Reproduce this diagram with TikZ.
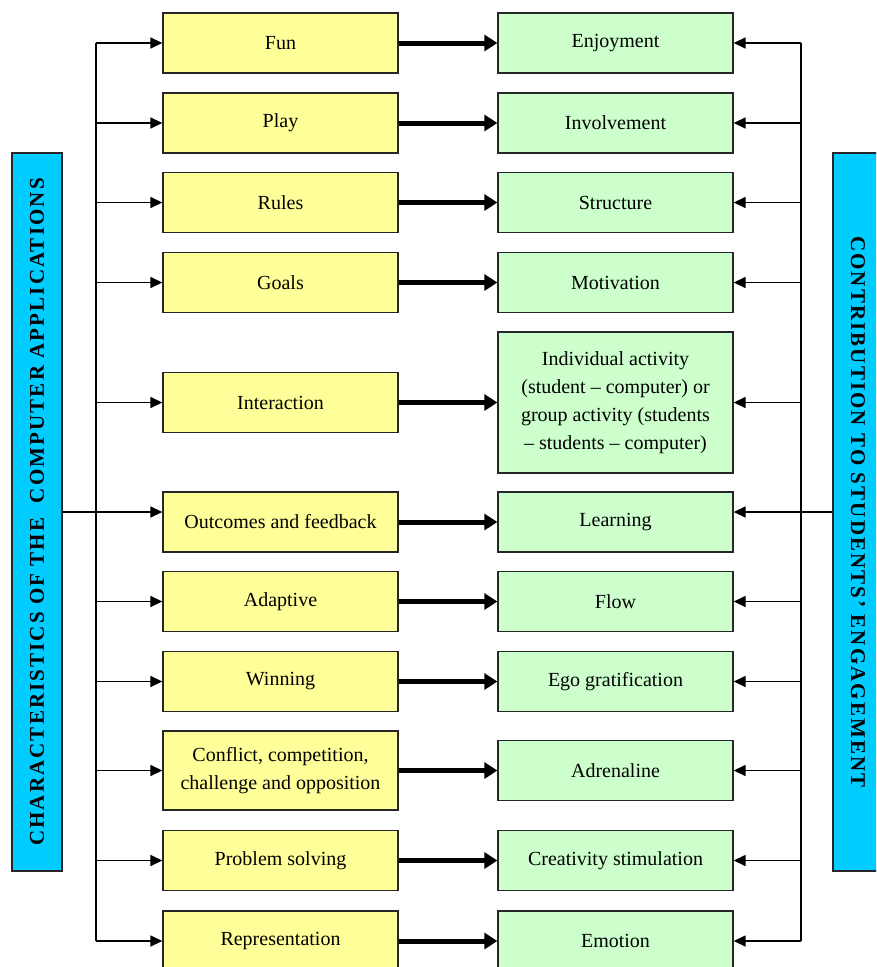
\documentclass[tikz,border=0pt]{standalone}
\usepackage{fontspec}
\setmainfont{Liberation Serif}
\usetikzlibrary{arrows.meta}

\definecolor{charyellow}{HTML}{FFFF99}
\definecolor{contgreen}{HTML}{CCFFCC}
\definecolor{barcyan}{HTML}{00CCFF}

\tikzset{
  charbox/.style={draw=black!85, line width=1.3pt, fill=charyellow,
    minimum width=235pt, minimum height=60pt, inner sep=2pt, align=center,
    font=\fontsize{20}{28}\selectfont},
  contbox/.style={charbox, fill=contgreen},
  sidebar/.style={draw=black!85, line width=1.3pt, fill=barcyan,
    minimum width=50pt, minimum height=718pt, inner sep=0pt},
  bartext/.style={font=\fontsize{21}{24}\selectfont\bfseries\addfontfeatures{LetterSpace=10}},
  thin arrow/.style={line width=1.4pt, -{Triangle[length=12pt,width=11pt]}},
  thick arrow/.style={line width=5pt, -{Triangle[length=13pt,width=16pt]}}
}

\begin{document}
\begin{tikzpicture}[x=1pt,y=-1pt]
        \pgfmathsetmacro\cx{280.5}
        \pgfmathsetmacro\ex{615.5}
        \clip (0,0) rectangle (876,967);
        \fill[white] (0,0) rectangle (876,967);
        \coordinate (LT) at (96,0);
        \coordinate (RT) at (801,0);
        % side bars
        \node[sidebar] (L) at (37,512) {};
        \node[bartext, rotate=90] (Ltext) at (L) {CHARACTERISTICS OF THE~~COMPUTER APPLICATIONS};
        \node[sidebar] (R) at (858,512) {};
        \node[bartext, rotate=-90] (Rtext) at (R) {CONTRIBUTION TO STUDENTS’ ENGAGEMENT};
        % characteristics
        \node[charbox] (C1) at (\cx,43) {Fun};
        \node[charbox] (C2) at (\cx,123) {Play};
        \node[charbox] (C3) at (\cx,202.5) {Rules};
        \node[charbox] (C4) at (\cx,282.5) {Goals};
        \node[charbox] (C5) at (\cx,402.5) {Interaction};
        \node[charbox] (C6) at (\cx,522) {Outcomes and feedback};
        \node[charbox] (C7) at (\cx,601.5) {Adaptive};
        \node[charbox] (C8) at (\cx,681.5) {Winning};
        \node[charbox, minimum height=79pt] (C9) at (\cx,770.5) {Conflict, competition,\\challenge and opposition};
        \node[charbox] (C10) at (\cx,860.5) {Problem solving};
        \node[charbox] (C11) at (\cx,941) {Representation};
        % contributions
        \node[contbox] (E1) at (\ex,43) {Enjoyment};
        \node[contbox] (E2) at (\ex,123) {Involvement};
        \node[contbox] (E3) at (\ex,202.5) {Structure};
        \node[contbox] (E4) at (\ex,282.5) {Motivation};
        \node[contbox, minimum height=141pt] (E5) at (\ex,402.5) {Individual activity\\(student -- computer) or\\group activity (students\\-- students -- computer)};
        \node[contbox] (E6) at (\ex,522) {Learning};
        \node[contbox] (E7) at (\ex,601.5) {Flow};
        \node[contbox] (E8) at (\ex,681.5) {Ego gratification};
        \node[contbox] (E9) at (\ex,770.5) {Adrenaline};
        \node[contbox] (E10) at (\ex,860.5) {Creativity stimulation};
        \node[contbox] (E11) at (\ex,941) {Emotion};
        % left distribution
        \draw[line width=1.4pt] (LT |- C1) -- (LT |- C11);
        \draw[thin arrow] (LT |- C1) -- (C1);
        \draw[thin arrow] (LT |- C2) -- (C2);
        \draw[thin arrow] (LT |- C3) -- (C3);
        \draw[thin arrow] (LT |- C4) -- (C4);
        \draw[thin arrow] (LT |- C5) -- (C5);
        \draw[thin arrow] (L.east) -- (L.east -| C6.west);
        \draw[thin arrow] (LT |- C7) -- (C7);
        \draw[thin arrow] (LT |- C8) -- (C8);
        \draw[thin arrow] (LT |- C9) -- (C9);
        \draw[thin arrow] (LT |- C10) -- (C10);
        \draw[thin arrow] (LT |- C11) -- (C11);
        % right distribution
        \draw[line width=1.4pt] (RT |- E1) -- (RT |- E11);
        \draw[thin arrow] (RT |- E1) -- (E1);
        \draw[thin arrow] (RT |- E2) -- (E2);
        \draw[thin arrow] (RT |- E3) -- (E3);
        \draw[thin arrow] (RT |- E4) -- (E4);
        \draw[thin arrow] (RT |- E5) -- (E5);
        \draw[thin arrow] (R.west) -- (R.west -| E6.east);
        \draw[thin arrow] (RT |- E7) -- (E7);
        \draw[thin arrow] (RT |- E8) -- (E8);
        \draw[thin arrow] (RT |- E9) -- (E9);
        \draw[thin arrow] (RT |- E10) -- (E10);
        \draw[thin arrow] (RT |- E11) -- (E11);
        % characteristic to contribution
        \draw[thick arrow] (C1) -- (E1);
        \draw[thick arrow] (C2) -- (E2);
        \draw[thick arrow] (C3) -- (E3);
        \draw[thick arrow] (C4) -- (E4);
        \draw[thick arrow] (C5) -- (E5);
        \draw[thick arrow] (C6) -- (E6);
        \draw[thick arrow] (C7) -- (E7);
        \draw[thick arrow] (C8) -- (E8);
        \draw[thick arrow] (C9) -- (E9);
        \draw[thick arrow] (C10) -- (E10);
        \draw[thick arrow] (C11) -- (E11);
    \end{tikzpicture}
\end{document}
